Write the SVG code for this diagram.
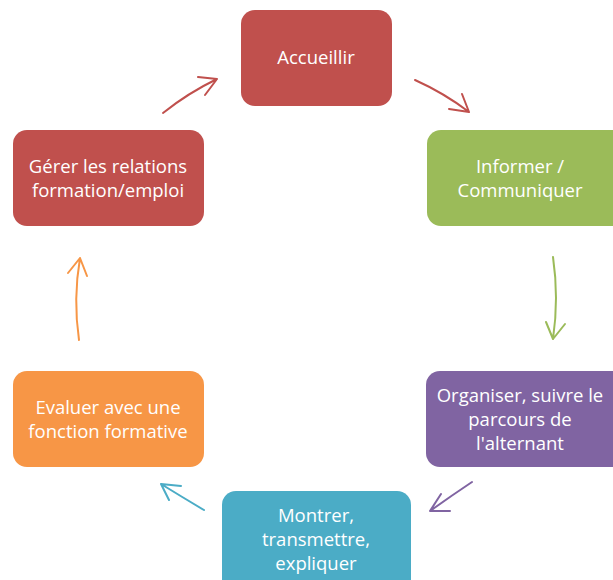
<svg xmlns="http://www.w3.org/2000/svg" width="613" height="580" viewBox="0 0 613 580">
<style>
.n text{fill:#fff;font-family:"Open Sans","Liberation Sans",sans-serif;font-size:18.5px;text-anchor:middle}
.c path{fill:none;stroke-width:2;stroke-linecap:round;stroke-linejoin:round}
</style>
<rect width="613" height="580" fill="#fff"/>
<g id="accueillir" class="n"><rect x="241" y="10" width="151" height="96" rx="14" fill="#C0504D"/><text x="316" y="64">Accueillir</text></g>
<g id="informer" class="n"><rect x="427" y="130" width="200" height="96" rx="14" fill="#9BBB59"/><text x="520" y="173">Informer /</text><text x="520" y="197">Communiquer</text></g>
<g id="organiser" class="n"><rect x="426" y="371" width="200" height="96" rx="14" fill="#8064A2"/><text x="520" y="402">Organiser, suivre le</text><text x="520" y="426">parcours de</text><text x="520" y="450">l'alternant</text></g>
<g id="montrer" class="n"><rect x="222" y="491" width="189" height="110" rx="14" fill="#4BACC6"/><text x="316" y="522">Montrer,</text><text x="316" y="546">transmettre,</text><text x="316" y="570">expliquer</text></g>
<g id="evaluer" class="n"><rect x="13" y="371" width="191" height="96" rx="14" fill="#F79646"/><text x="108" y="414">Evaluer avec une</text><text x="108" y="438">fonction formative</text></g>
<g id="gerer" class="n"><rect x="13" y="130" width="191" height="96" rx="14" fill="#C0504D"/><text x="108" y="173">Gérer les relations</text><text x="108" y="197">formation/emploi</text></g>
<g id="connectors" class="c">
<path d="M163,113 Q188,93 217,79 M198,77 L217,79 L205,95" stroke="#C0504D"/>
<path d="M415,80 Q444,93 469,112 M449,109 L469,112 L462,94" stroke="#C0504D"/>
<path d="M553,257 Q559,298 553,339 M546,322 L553,339 L565,324" stroke="#9BBB59"/>
<path d="M472,482 Q451,496 430,511 M441,494 L430,511 L450,511" stroke="#8064A2"/>
<path d="M204,510 Q182,497 161,484 M181,486 L161,484 L169,500" stroke="#4BACC6"/>
<path d="M79,340 Q73,299 80,258 M68,273 L80,258 L87,276" stroke="#F79646"/>
</g>
</svg>
